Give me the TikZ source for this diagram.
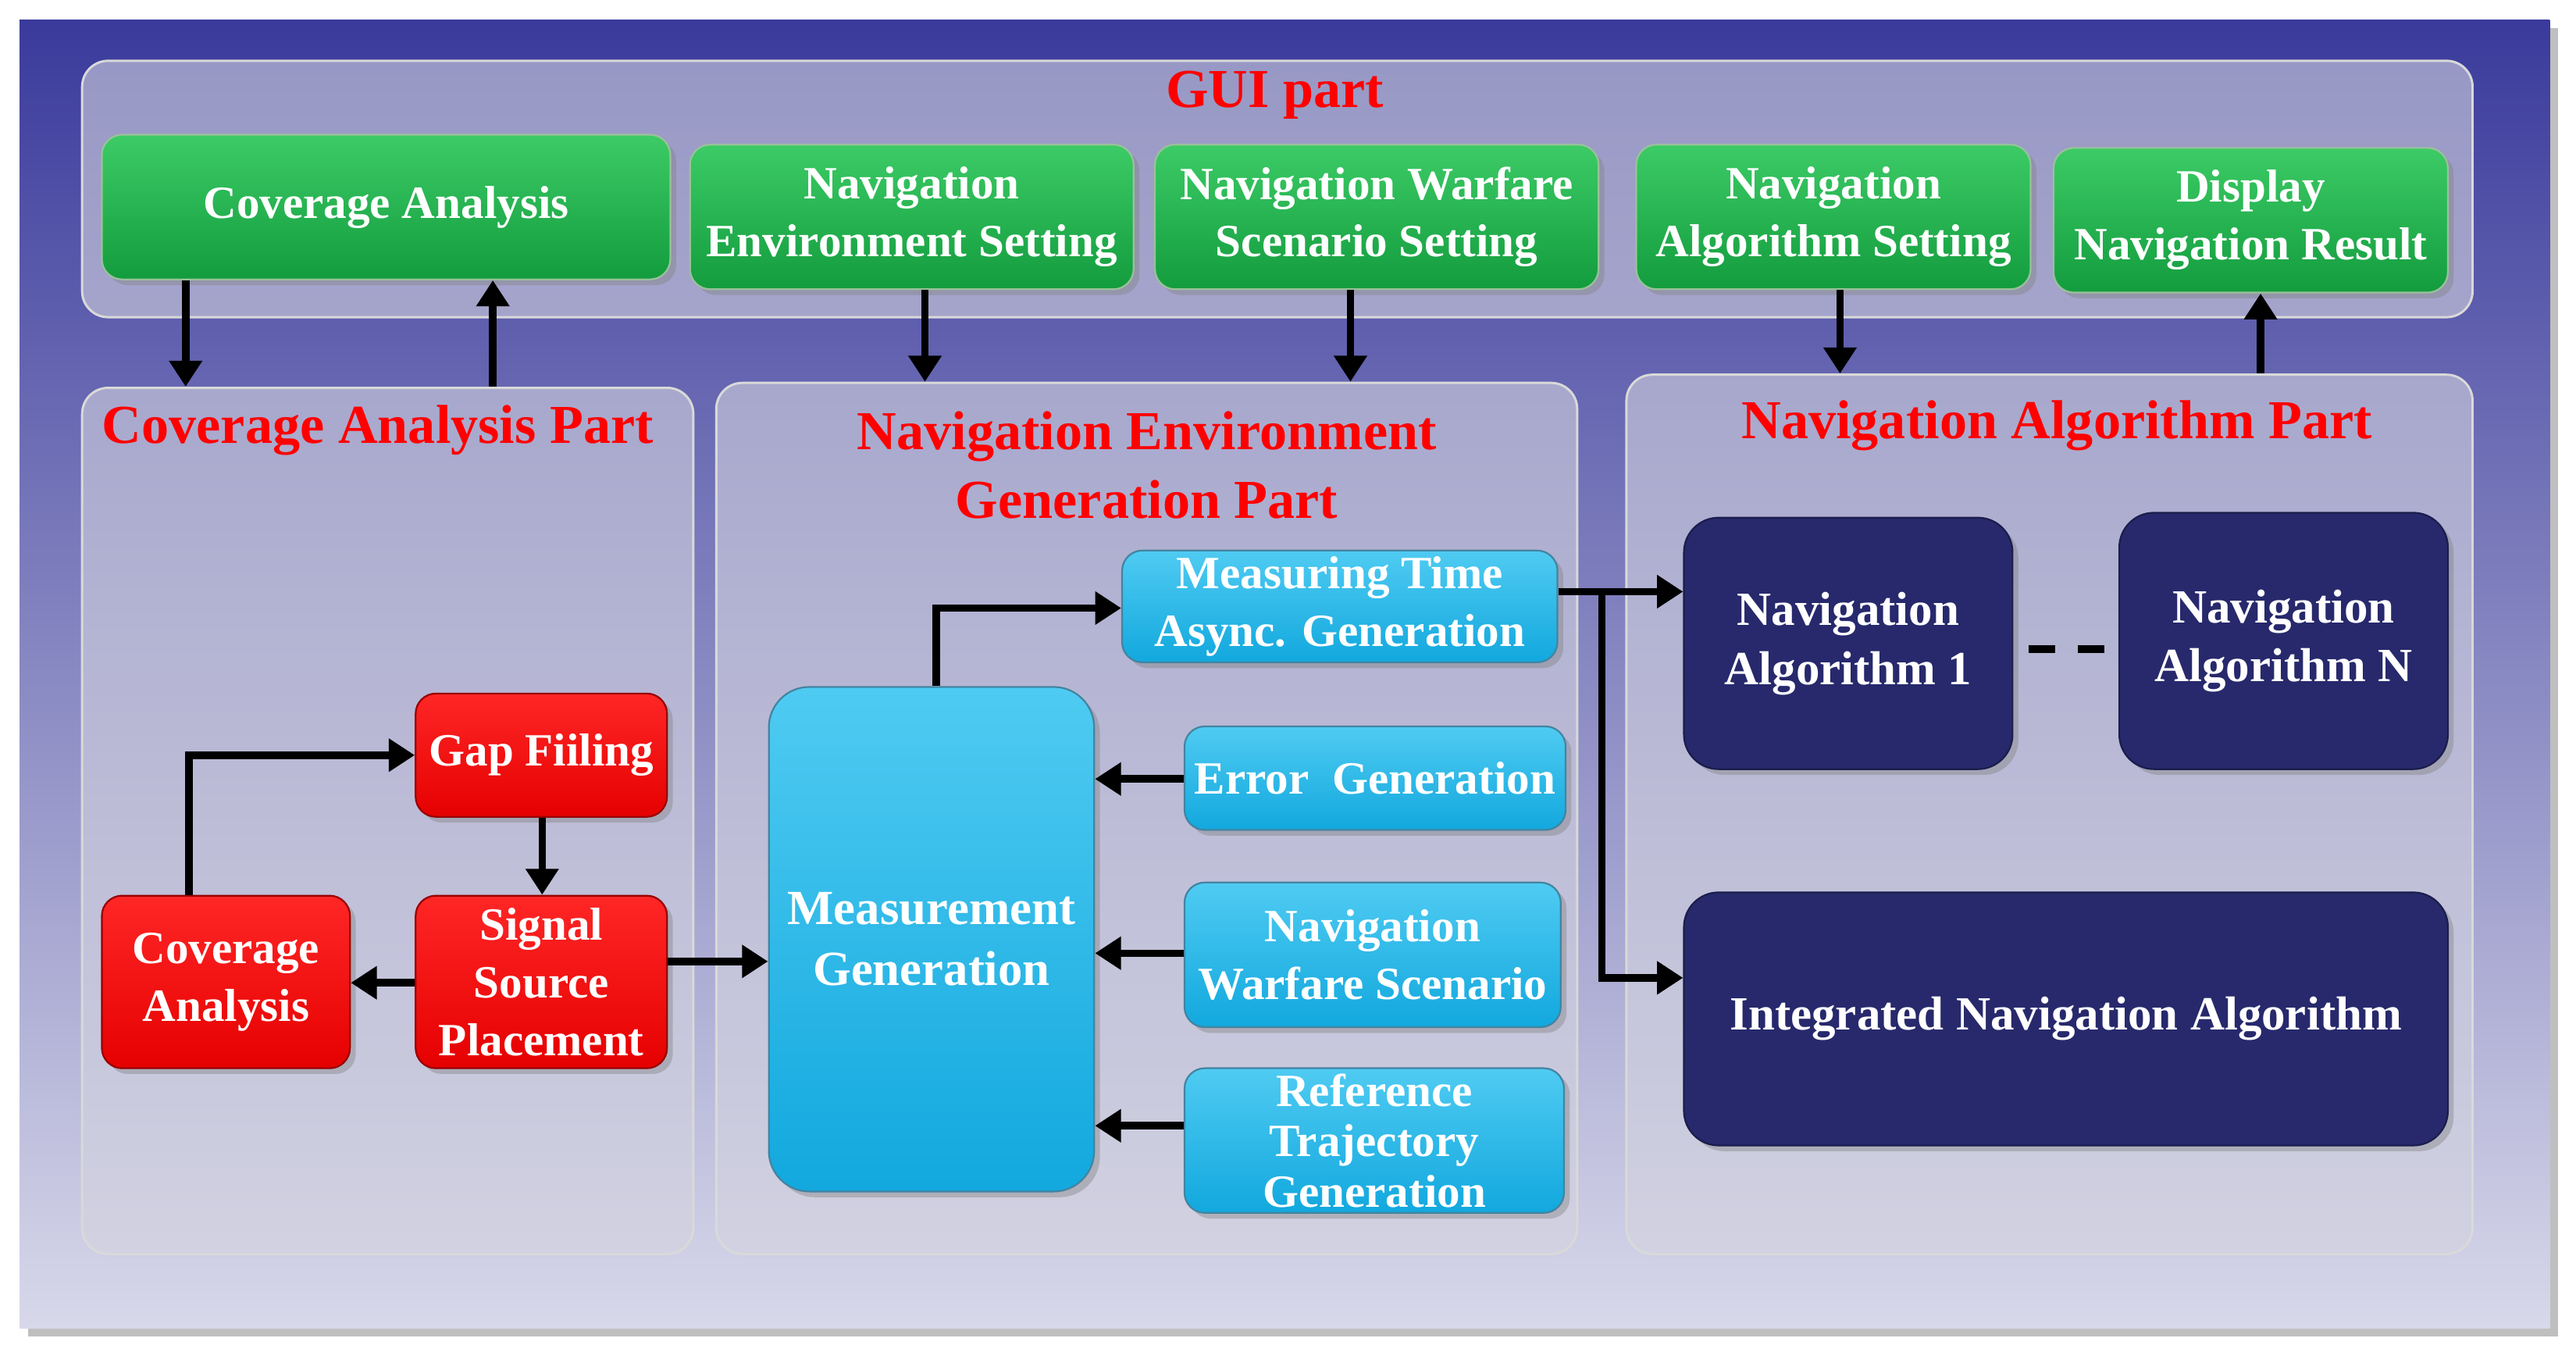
\documentclass[tikz,border=0pt]{standalone}
\usepackage{fontspec}
\setmainfont{Liberation Serif}
\usetikzlibrary{arrows.meta,shadows,calc}
\definecolor{bgtop}{HTML}{3A3A9C}
\definecolor{bgbot}{HTML}{D8D8EA}
\definecolor{navy}{HTML}{27296C}
\definecolor{cyt}{HTML}{4FCBF2}
\definecolor{cyb}{HTML}{12A8DE}
\definecolor{grt}{HTML}{3CCB66}
\definecolor{grb}{HTML}{139C3E}
\definecolor{panc}{HTML}{D4D4E0}
\newcommand\bx[7]{\pgfmathsetmacro\w{(#4-#2)*0.02}\pgfmathsetmacro\h{(#5-#3)*0.02}%
\node[#6, minimum width=\w cm, minimum height=\h cm] (#1) at ({(#2+#4)/2},{(#3+#5)/2}) {#7};}
\begin{document}
\begin{tikzpicture}[x=0.02cm,y=-0.02cm,
 box/.style={rounded corners=7pt,inner sep=0pt,align=center,text=white,font=\fontsize{16}{20}\selectfont\bfseries,drop shadow={shadow xshift=2pt,shadow yshift=-2pt,opacity=0.4}},
 grn/.style={box,top color=grt,bottom color=grb,draw=green!40!black!40,line width=0.6pt},
 rd/.style={box,top color=red!85!white,bottom color=red!90!black,draw=red!60!black,line width=0.6pt},
 cy/.style={box,top color=cyt,bottom color=cyb,draw=cyan!60!black,line width=0.6pt},
 nv/.style={box,rounded corners=12pt,fill=navy,draw=navy!70!black,line width=0.6pt,font=\fontsize{16.5}{20.5}\selectfont\bfseries},
 pan/.style={rounded corners=9pt,fill=panc,fill opacity=0.6,draw=white!70!gray,line width=0.8pt,inner sep=0pt},
 ttl/.style={text=red,font=\fontsize{19}{24}\selectfont\bfseries,align=center},
 ar/.style={line width=2.6pt,-{Triangle[length=9pt,width=11pt]}}]
\useasboundingbox (0,0) rectangle (1568,825);
\fill[white] (0,0) rectangle (1568,825);
\shade[top color=bgtop,bottom color=bgbot,drop shadow={shadow xshift=3pt,shadow yshift=-3pt,opacity=0.5}] (12,12) rectangle (1552,808);
% panels
\bx{gui}{50}{37}{1505}{193}{pan}{}
\bx{cap}{50}{236}{422}{763}{pan}{}
\bx{nep}{436}{233}{960}{763}{pan}{}
\bx{nap}{990}{228}{1505}{763}{pan}{}
\node[ttl] at (776,58) {GUI part};
\node[ttl] at (230,262) {Coverage Analysis Part};
\node[ttl] at (698,283) {Navigation Environment\\Generation Part};
\node[ttl] at (1252,259) {Navigation Algorithm Part};
% GUI boxes
\bx{g1}{62}{82}{408}{170}{grn}{Coverage Analysis}
\bx{g2}{420}{88}{690}{176}{grn}{Navigation\\Environment Setting}
\bx{g3}{703}{88}{973}{176}{grn}{Navigation Warfare\\Scenario Setting}
\bx{g4}{996}{88}{1236}{176}{grn}{Navigation\\Algorithm Setting}
\bx{g5}{1250}{90}{1490}{178}{grn}{Display\\Navigation Result}
% red
\bx{gap}{253}{422}{406}{497}{rd}{Gap Fiiling}
\bx{ssp}{253}{545}{406}{650}{rd}{Signal\\Source\\Placement}
\bx{cov}{62}{545}{213}{650}{rd}{Coverage\\Analysis}
% cyan
\bx{mg}{468}{418}{666}{725}{cy,rounded corners=14pt,font=\fontsize{17}{21}\selectfont\bfseries}{Measurement\\Generation}
\bx{mt}{683}{335}{948}{403}{cy}{Measuring Time\\Async. Generation}
\bx{eg}{721}{442}{953}{505}{cy}{Error~ Generation}
\bx{nws}{721}{537}{950}{625}{cy}{Navigation\\Warfare Scenario}
\bx{rtg}{721}{650}{952}{738}{cy,font=\fontsize{16}{17.5}\selectfont\bfseries}{Reference\\Trajectory\\Generation}
% navy
\bx{na1}{1025}{315}{1225}{468}{nv}{Navigation\\Algorithm 1}
\bx{nan}{1290}{312}{1490}{468}{nv}{Navigation\\Algorithm N}
\bx{ina}{1025}{543}{1490}{697}{nv}{Integrated Navigation Algorithm}
% coordinates
\coordinate (c113) at (113,0); \coordinate (c300) at (300,0);
\coordinate (c563) at (563,0); \coordinate (c822) at (822,0);
\coordinate (c1120) at (1120,0); \coordinate (c1376) at (1376,0);
\coordinate (c115) at (115,0); \coordinate (c330) at (330,0);
\coordinate (c570) at (570,0); \coordinate (y360) at (0,360);
\coordinate (c975) at (975,0); \coordinate (y595) at (0,595);
\coordinate (y585) at (0,585); \coordinate (y598) at (0,598);
\coordinate (y474) at (0,474); \coordinate (y580) at (0,580);
\coordinate (y685) at (0,685); \coordinate (y370) at (0,370);
% GUI arrows
\draw[ar] (g1.south -| c113) -- (cap.north -| c113);
\draw[ar] (cap.north -| c300) -- (g1.south -| c300);
\draw[ar] (g2.south -| c563) -- (nep.north -| c563);
\draw[ar] (g3.south -| c822) -- (nep.north -| c822);
\draw[ar] (g4.south -| c1120) -- (nap.north -| c1120);
\draw[ar] (nap.north -| c1376) -- (g5.south -| c1376);
% coverage arrows
\draw[ar] (cov.north -| c115) |- (gap.west);
\draw[ar] (gap.south -| c330) -- (ssp.north -| c330);
\draw[ar] (ssp.west |- y598) -- (cov.east |- y598);
\draw[ar] (ssp.east |- y585) -- (mg.west |- y585);
% env arrows
\draw[ar] (mg.north -| c570) |- (mt.west |- y370);
\draw[ar] (eg.west |- y474) -- (mg.east |- y474);
\draw[ar] (nws.west |- y580) -- (mg.east |- y580);
\draw[ar] (rtg.west |- y685) -- (mg.east |- y685);
% to algorithms
\draw[ar] (mt.east |- y360) -- (na1.west |- y360);
\draw[ar] (c975 |- y360) |- (ina.west |- y595);
\draw[line width=2.6pt,dash pattern=on 9pt off 8pt] (1235,395) -- (1283,395);
\end{tikzpicture}
\end{document}
